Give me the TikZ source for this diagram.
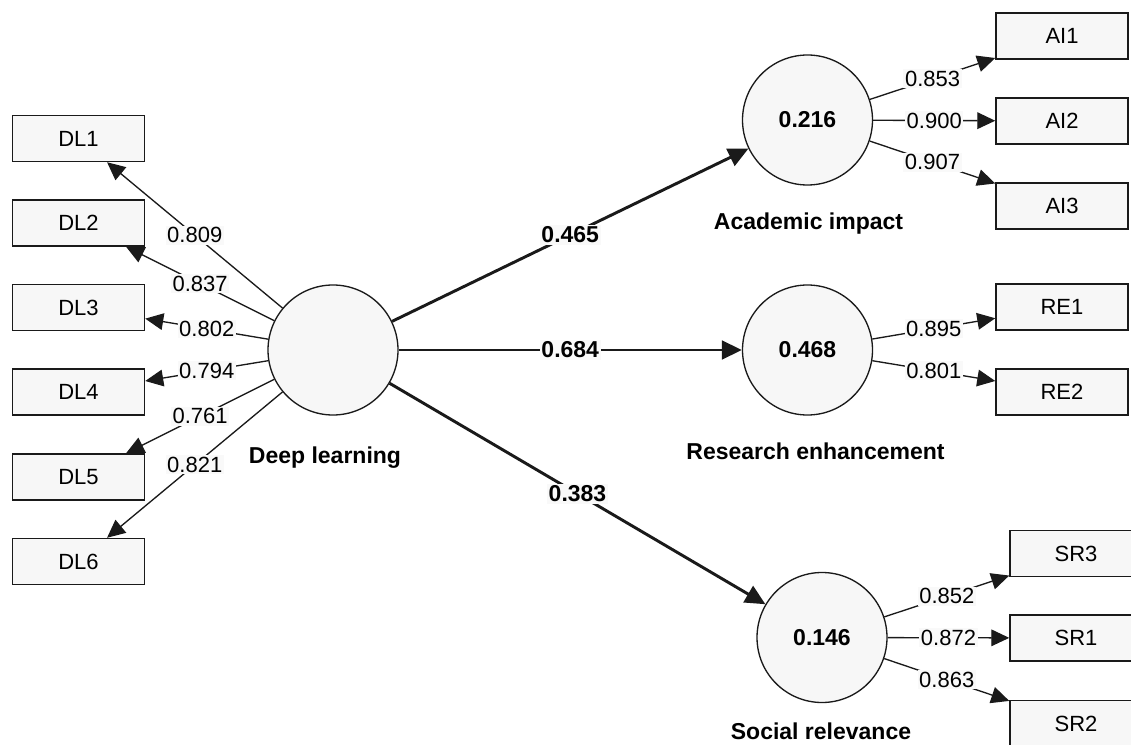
\documentclass[tikz,border=0pt]{standalone}
\usepackage{fontspec}
\setmainfont{Liberation Sans}
\usetikzlibrary{arrows.meta}
\definecolor{boxfill}{HTML}{F7F7F7}
\definecolor{labfill}{HTML}{F9F9F9}
\definecolor{ink}{HTML}{1A1A1A}
\begin{document}
\begin{tikzpicture}[x=0.75pt,y=-0.75pt,
  every node/.style={font=\fontsize{16.5}{19}\selectfont},
  indicator/.style={draw=ink,line width=1.1pt,fill=boxfill,minimum width=99pt,minimum height=34.5pt,inner sep=0pt},
  construct/.style={draw=ink,line width=1pt,fill=boxfill,circle,minimum size=97.5pt,inner sep=0pt,font=\fontsize{17.25}{19}\selectfont\bfseries},
  cname/.style={anchor=base,inner sep=0pt,font=\fontsize{17.25}{19}\selectfont\bfseries},
  load/.style={draw=ink,line width=1pt,-{Triangle[length=13.5pt,width=12.5pt]}},
  path/.style={draw=ink,line width=2.2pt,-{Triangle[length=15pt,width=14pt]}},
  lab/.style={fill=labfill,inner sep=1.2pt},
  blab/.style={fill=labfill,inner sep=1.2pt,font=\fontsize{17.25}{19}\selectfont\bfseries}]
\useasboundingbox (0,0) rectangle (1131,745);
\clip (0,0) rectangle (1131,745);
\fill[white] (0,0) rectangle (1131,745);

% latent constructs
\node[construct] (dl) at (333,350) {};
\node[construct] (ai) at (807.5,120) {0.216};
\node[construct] (re) at (807.5,350) {0.468};
\node[construct] (sr) at (822,637.5) {0.146};

\node[cname] (dlname) at (325,463) {Deep learning};
\node[cname] (ainame) at (808.5,230) {Academic impact};
\node[cname] (rename) at (815.5,459) {Research enhancement};
\node[cname] (srname) at (821,739) {Social relevance};

% indicators of Deep learning
\node[indicator] (dl1) at (78.5,138.5) {DL1};
\node[indicator] (dl2) at (78.5,223) {DL2};
\node[indicator] (dl3) at (78.5,307.5) {DL3};
\node[indicator] (dl4) at (78.5,392) {DL4};
\node[indicator] (dl5) at (78.5,477) {DL5};
\node[indicator] (dl6) at (78.5,561.5) {DL6};

% indicators of the endogenous constructs
\node[indicator] (ai1) at (1062,36) {AI1};
\node[indicator] (ai2) at (1062,121) {AI2};
\node[indicator] (ai3) at (1062,206) {AI3};
\node[indicator] (re1) at (1062,307) {RE1};
\node[indicator] (re2) at (1062,392) {RE2};
\node[indicator] (sr3) at (1076,553.5) {SR3};
\node[indicator] (sr1) at (1076,638) {SR1};
\node[indicator] (sr2) at (1076,723.5) {SR2};

% outer loadings
\draw[load] (dl) -- node[lab] {0.809} (dl1);
\draw[load] (dl) -- node[lab] {0.837} (dl2);
\draw[load] (dl) -- node[lab] {0.802} (dl3);
\draw[load] (dl) -- node[lab] {0.794} (dl4);
\draw[load] (dl) -- node[lab] {0.761} (dl5);
\draw[load] (dl) -- node[lab] {0.821} (dl6);

\draw[load] (ai) -- node[lab] {0.853} (ai1);
\draw[load] (ai) -- node[lab] {0.900} (ai2);
\draw[load] (ai) -- node[lab] {0.907} (ai3);
\draw[load] (re) -- node[lab] {0.895} (re1);
\draw[load] (re) -- node[lab] {0.801} (re2);
\draw[load] (sr) -- node[lab] {0.852} (sr3);
\draw[load] (sr) -- node[lab] {0.872} (sr1);
\draw[load] (sr) -- node[lab] {0.863} (sr2);

% structural paths
\draw[path] (dl) -- node[blab] {0.465} (ai);
\draw[path] (dl) -- node[blab] {0.684} (re);
\draw[path] (dl) -- node[blab] {0.383} (sr);
\end{tikzpicture}
\end{document}
